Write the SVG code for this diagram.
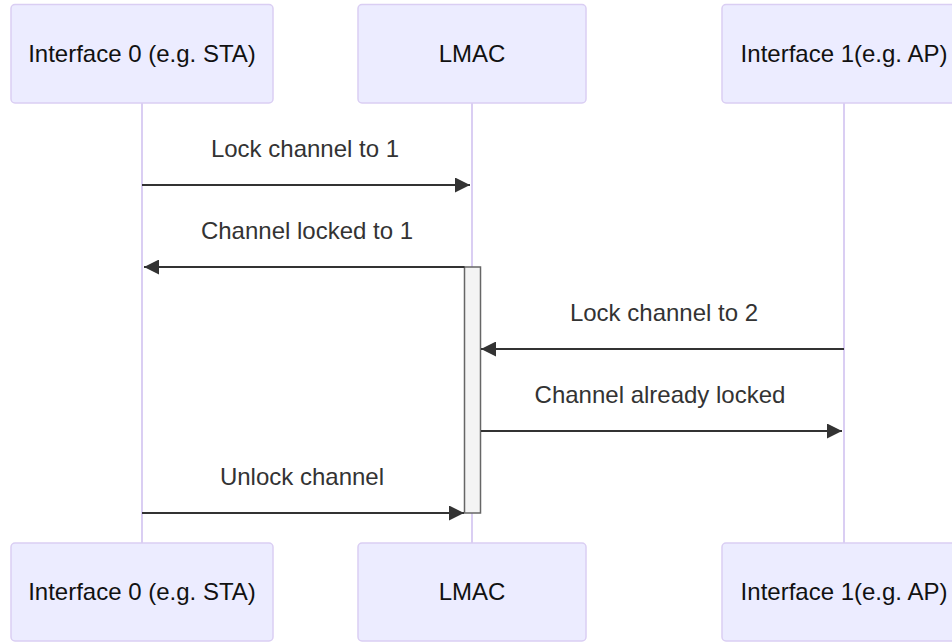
<svg xmlns="http://www.w3.org/2000/svg" width="952" height="642" viewBox="0 0 952 642">
  <style>
    .actor { fill: #ECECFF; stroke: #DACEF3; stroke-width: 1.5; }
    .actor-label { font-family: "Liberation Sans", Arial, sans-serif; font-size: 24px; fill: #111; text-anchor: middle; }
    .lifeline { stroke: #DACEF3; stroke-width: 2; fill: none; }
    .msg { stroke: #333; stroke-width: 2.2; fill: none; marker-end: url(#arrowhead); }
    .msg-label { font-family: "Liberation Sans", Arial, sans-serif; font-size: 24px; fill: #333; text-anchor: middle; }
    .activation { fill: #F4F4F4; stroke: #666; stroke-width: 1.5; }
  </style>
  <defs>
    <marker id="arrowhead" markerUnits="userSpaceOnUse" markerWidth="15" markerHeight="15" viewBox="0 0 15 15" refX="15" refY="7.5" orient="auto">
      <path d="M0 0 L15 7.5 L0 15 z" fill="#333"/>
    </marker>
  </defs>

  <rect width="952" height="642" fill="#FFFFFF"/>

  <!-- lifelines -->
  <g id="lifelines">
    <line class="lifeline" x1="142" y1="103" x2="142" y2="543"/>
    <line class="lifeline" x1="472" y1="103" x2="472" y2="543"/>
    <line class="lifeline" x1="844" y1="103" x2="844" y2="543"/>
  </g>

  <!-- participants, top row -->
  <g id="iface0-top">
    <rect class="actor" x="11" y="4.5" width="262" height="98.5" rx="4" ry="4"/>
    <text class="actor-label" x="142" y="62">Interface 0 (e.g. STA)</text>
  </g>
  <g id="lmac-top">
    <rect class="actor" x="358" y="4.5" width="228" height="98.5" rx="4" ry="4"/>
    <text class="actor-label" x="472" y="62">LMAC</text>
  </g>
  <g id="iface1-top">
    <rect class="actor" x="722" y="4.5" width="244" height="98.5" rx="4" ry="4"/>
    <text class="actor-label" x="844" y="62">Interface 1(e.g. AP)</text>
  </g>

  <!-- participants, bottom row -->
  <g id="iface0-bottom">
    <rect class="actor" x="11" y="543" width="262" height="98" rx="4" ry="4"/>
    <text class="actor-label" x="142" y="600">Interface 0 (e.g. STA)</text>
  </g>
  <g id="lmac-bottom">
    <rect class="actor" x="358" y="543" width="228" height="98" rx="4" ry="4"/>
    <text class="actor-label" x="472" y="600">LMAC</text>
  </g>
  <g id="iface1-bottom">
    <rect class="actor" x="722" y="543" width="244" height="98" rx="4" ry="4"/>
    <text class="actor-label" x="844" y="600">Interface 1(e.g. AP)</text>
  </g>

  <!-- LMAC activation while channel is locked -->
  <g id="lmac-activation">
    <rect class="activation" x="464.5" y="267" width="16" height="246"/>
  </g>

  <!-- messages -->
  <g id="messages">
    <text class="msg-label" x="305" y="157">Lock channel to 1</text>
    <line class="msg" x1="142" y1="185" x2="470" y2="185"/>

    <text class="msg-label" x="307" y="239">Channel locked to 1</text>
    <line class="msg" x1="464.5" y1="267" x2="144" y2="267"/>

    <text class="msg-label" x="664" y="321">Lock channel to 2</text>
    <line class="msg" x1="844" y1="349" x2="481" y2="349"/>

    <text class="msg-label" x="660" y="403">Channel already locked</text>
    <line class="msg" x1="481" y1="431" x2="842" y2="431"/>

    <text class="msg-label" x="302" y="485">Unlock channel</text>
    <line class="msg" x1="142" y1="513" x2="464" y2="513"/>
  </g>
</svg>
